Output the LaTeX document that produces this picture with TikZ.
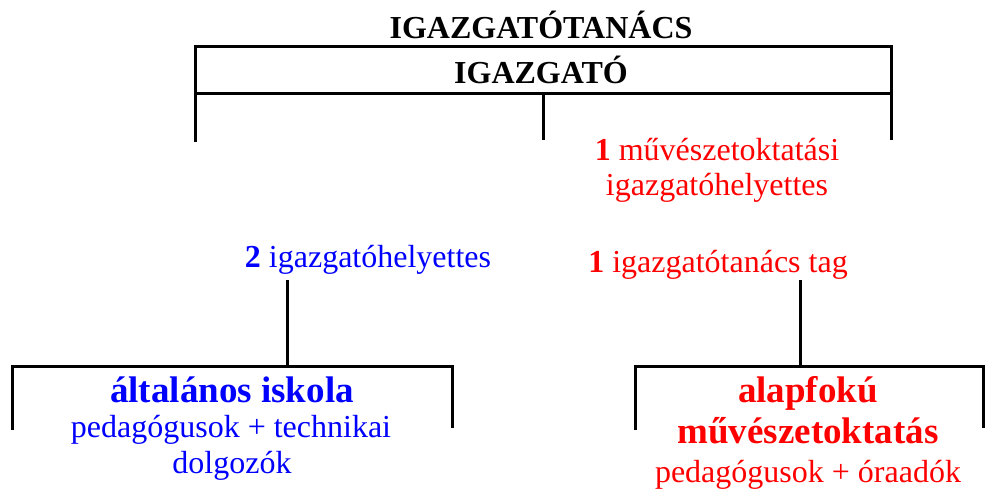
\documentclass[tikz,border=0pt]{standalone}
\usepackage{fontspec}
\setmainfont{LiberationSerif}[Extension=.ttf, UprightFont=*-Regular, BoldFont=*-Bold, ItalicFont=*-Italic, BoldItalicFont=*-BoldItalic]
\begin{document}
\begin{tikzpicture}[x=1pt, y=-1pt,
    vonal/.style={line width=3pt},
    felirat/.style={anchor=base, inner sep=2pt, font=\fontsize{32}{35}\selectfont},
    cim/.style={felirat, font=\fontsize{32}{35}\selectfont\bfseries},
    nagy/.style={felirat, font=\fontsize{37}{41}\selectfont\bfseries}]
    \useasboundingbox (0,0) rectangle (986,488);
    % vezetes
    \node[cim] (tanacs) at (541,38) {IGAZGATÓTANÁCS};
    \node[cim] (igazgato) at (541,83) {IGAZGATÓ};
    \coordinate (bf) at (195.5,46.5);
    \coordinate (jf) at (891,46.5);
    \coordinate (bk) at (195.5,93.5);
    \coordinate (jk) at (891,93.5);
    \coordinate (kk) at (543,93.5);
    \draw[vonal] (195.5,142) -- (bf) -- (jf) -- (891,140);
    \draw[vonal] (bk) -- (jk);
    \draw[vonal] (kk) -- (543,140);
    % helyettesek
    \node[felirat, text=red] (muvhely1) at (717,160) {\textbf{1} művészetoktatási};
    \node[felirat, text=red] (muvhely2) at (717,195) {igazgatóhelyettes};
    \node[felirat, text=blue] (hely) at (368,267) {\textbf{2} igazgatóhelyettes};
    \node[felirat, text=red] (tag) at (718,272) {\textbf{1} igazgatótanács tag};
    % altalanos iskola
    \coordinate (ai) at (287,366);
    \coordinate (aib) at (12,366);
    \coordinate (aij) at (452,366);
    \draw[vonal] (287,280) -- (ai);
    \draw[vonal] (12,430) -- (aib) -- (aij) -- (452,428);
    \node[nagy, text=blue] (iskola) at (232,402) {általános iskola};
    \node[felirat, text=blue] (iskola2) at (231,437) {pedagógusok + technikai};
    \node[felirat, text=blue] (iskola3) at (232,473) {dolgozók};
    % muveszetoktatas
    \coordinate (amo) at (800,366);
    \coordinate (amob) at (635,366);
    \coordinate (amoj) at (983,366);
    \draw[vonal] (800,280) -- (amo);
    \draw[vonal] (635,430) -- (amob) -- (amoj) -- (983,428);
    \node[nagy, text=red] (amo1) at (808,402) {alapfokú};
    \node[nagy, text=red] (amo2) at (808,443) {művészetoktatás};
    \node[felirat, text=red] (amo3) at (808,482) {pedagógusok + óraadók};
\end{tikzpicture}
\end{document}
